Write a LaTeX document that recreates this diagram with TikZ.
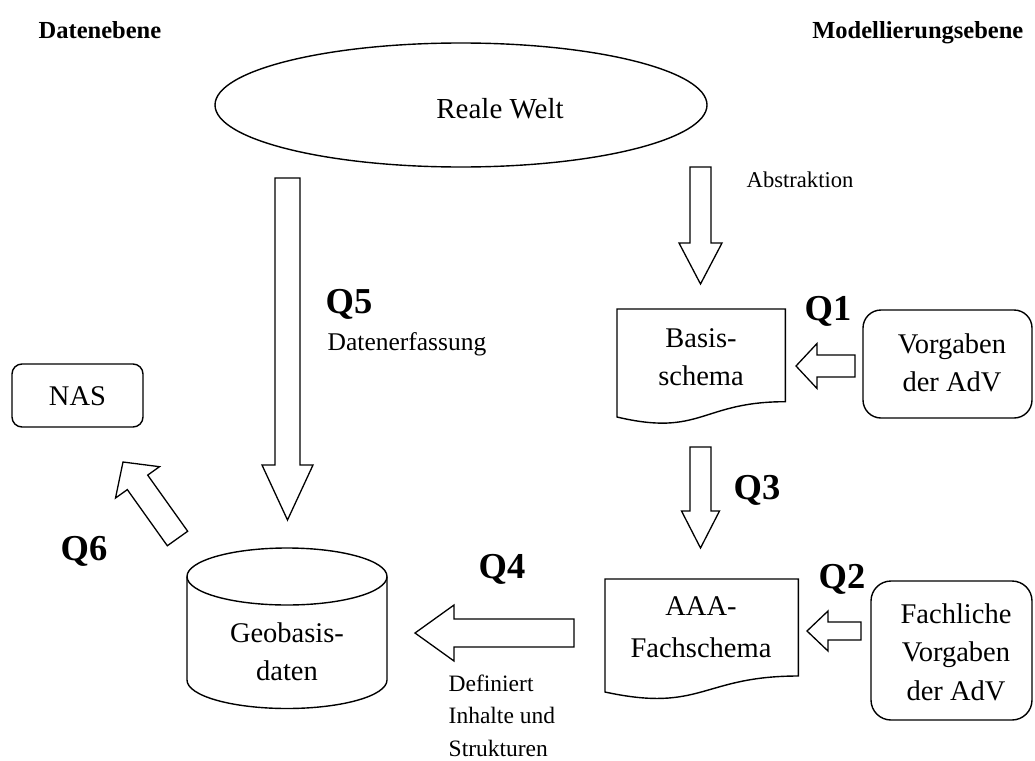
\documentclass[tikz,border=0pt]{standalone}
\usepackage{fontspec}
\setmainfont{Liberation Serif}
\usetikzlibrary{shapes.geometric,calc}
\newcommand\stk[2][c]{\begin{tabular}[t]{@{}#1@{}}#2\end{tabular}}
\newcommand\barrow[5]{%
  \coordinate (bA) at (#1); \coordinate (bB) at (#2);
  \coordinate (bH) at ($(bB)!#5!(bA)$);
  \draw[blockarrow] ($(bA)!#3!90:(bB)$) -- ($(bH)!#3!90:(bB)$) -- ($(bH)!#4!90:(bB)$) -- (bB)
    -- ($(bH)!#4!-90:(bB)$) -- ($(bH)!#3!-90:(bB)$) -- ($(bA)!#3!-90:(bB)$) -- cycle;}
\begin{document}
\begin{tikzpicture}[x=1pt,y=-1pt,line width=1.4pt,
  blockarrow/.style={draw,line width=1.3pt,line join=miter,fill=white},
  title/.style={font=\fontsize{24.5}{29}\bfseries\selectfont},
  qlab/.style={font=\fontsize{36.5}{40}\bfseries\selectfont,anchor=base west,inner sep=0},
  maintxt/.style={font=\fontsize{28.5}{38}\selectfont,anchor=base,inner sep=0},
  smalltxt/.style={font=\fontsize{23.5}{32.5}\selectfont,anchor=base west,inner sep=0},
  box/.style={draw,rounded corners=#1,inner sep=0},
  box/.default=16pt]
\useasboundingbox (0,0) rectangle (1035,760);
\fill[white] (0,0) rectangle (1035,760);

% titles
\node[title,anchor=base west,inner sep=0] (dat) at (38,38) {Datenebene};
\node[title,anchor=base east,inner sep=0] (mod) at (1024,38) {Modellierungsebene};

% Reale Welt
\node[ellipse,draw,minimum width=492pt,minimum height=124pt,inner sep=0] (welt) at (461,105) {};
\node[font=\fontsize{29}{34}\selectfont,anchor=base,inner sep=0] (weltt) at (500,118) {Reale Welt};

% Basis-schema document
\node[minimum width=167pt,minimum height=115.6pt,inner sep=0,anchor=north west] (basis) at (617,309) {};
\draw (basis.north west) -- (basis.north east) -- ($(basis.north east)+(0,92.7)$)
  .. controls ($(basis.north)+(0,92.7)$) and ($(basis.north)+(0,128)$) .. ($(basis.north west)+(0,108)$) -- cycle;
\node[maintxt] (basist) at (701,347) {\stk{Basis-\\schema}};

% AAA-Fachschema document
\node[minimum width=192pt,minimum height=121pt,inner sep=0,anchor=north west] (aaa) at (605,579) {};
\draw (aaa.north west) -- (aaa.north east) -- ($(aaa.north east)+(0,97)$)
  .. controls ($(aaa.north)+(0,97)$) and ($(aaa.north)+(0,134)$) .. ($(aaa.north west)+(0,113)$) -- cycle;
\node[maintxt,font=\fontsize{28.5}{42}\selectfont] (aaat) at (701,615) {\stk{AAA-\\Fachschema}};

% Vorgaben der AdV
\draw[box=18pt] (863,310) rectangle (1032,418);
\node[maintxt] (vorg) at (952,353) {\stk{Vorgaben\\der AdV}};

% Fachliche Vorgaben der AdV
\draw[box=20pt] (871,581) rectangle (1032,720);
\node[maintxt,font=\fontsize{28.5}{38.5}\selectfont] (fach) at (956,623) {\stk{Fachliche\\Vorgaben\\der AdV}};

% NAS
\draw[box=10pt] (12,364) rectangle (143,427);
\node[maintxt] (nas) at (77.5,405) {NAS};

% Geobasisdaten cylinder
\draw (187,576.5) -- (187,680) arc[start angle=180,end angle=360,x radius=100pt,y radius=28.5pt] -- (387,576.5);
\draw (287,576.5) ellipse[x radius=100pt,y radius=28.5pt];
\node[maintxt] (geo) at (287,642) {\stk{Geobasis-\\daten}};

% block arrows
\coordinate (a5t) at (287.5,178); \coordinate (a5h) at (287.5,520);
\barrow{a5t}{a5h}{12.5pt}{25.5pt}{55pt}
\coordinate (abt) at (700.5,167); \coordinate (abh) at (700.5,284);
\barrow{abt}{abh}{10.5pt}{21.5pt}{41pt}
\coordinate (a3t) at (700.5,447); \coordinate (a3h) at (700.5,548);
\barrow{a3t}{a3h}{10.5pt}{19pt}{37pt}
\coordinate (a1t) at (855,366); \coordinate (a1h) at (796,366);
\barrow{a1t}{a1h}{11pt}{22.5pt}{21pt}
\coordinate (a2t) at (861,631); \coordinate (a2h) at (807,631);
\barrow{a2t}{a2h}{9pt}{20pt}{21pt}
\coordinate (a4t) at (574,633); \coordinate (a4h) at (415,633);
\barrow{a4t}{a4h}{14pt}{28pt}{39pt}
\coordinate (a6t) at (177.5,538.5); \coordinate (a6h) at (123,462);
\barrow{a6t}{a6h}{12.5pt}{27pt}{25pt}

% labels
\node[font=\fontsize{22.6}{27}\selectfont,anchor=base west,inner sep=0] (abs) at (746,187) {Abstraktion};
\node[qlab] (q5) at (325,313) {Q5};
\node[font=\fontsize{25.5}{30}\selectfont,anchor=base west,inner sep=0] (erf) at (327,350) {Datenerfassung};
\node[qlab] (q1) at (804,320) {Q1};
\node[qlab] (q3) at (733,499) {Q3};
\node[qlab] (q2) at (818,588) {Q2};
\node[qlab] (q4) at (478,578) {Q4};
\node[qlab] (q6) at (60,560) {Q6};
\node[smalltxt] (def) at (448,691) {\stk[l]{Definiert\\Inhalte und\\Strukturen}};
\end{tikzpicture}
\end{document}
